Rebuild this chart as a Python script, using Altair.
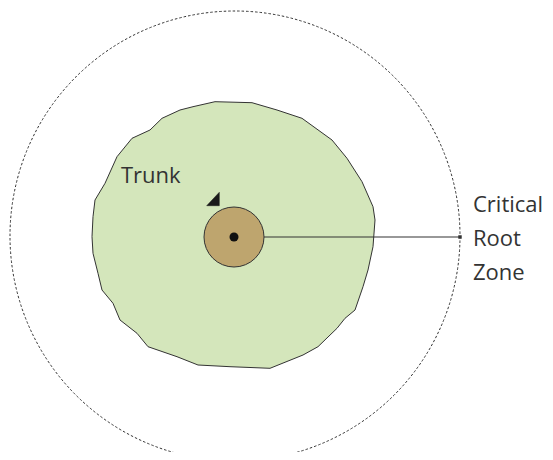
import altair as alt
import pandas as pd

# Canopy (drip line) polygon vertices, in image-pixel coordinates
canopy_x = [215, 252, 277, 302, 332, 347, 362, 373, 375, 373, 368, 363, 355, 345, 337, 318,
            303, 270, 230, 198, 177, 148, 137, 120, 113, 102, 98, 93, 92, 93, 95, 105, 117,
            132, 150, 162, 180, 193]
canopy_y = [101.7, 102.7, 110, 118.3, 140, 158.3, 181.7, 206.7, 220, 246.7, 270, 286.7, 310,
            318.3, 328.3, 346.7, 355, 368.3, 366.7, 365, 356.7, 346.7, 333.3, 320, 303.3, 290,
            273.3, 253.3, 236.7, 216.7, 200, 183.3, 156.7, 138.3, 130, 118.3, 110, 106.7]

# Small pointer triangle next to the trunk
tri_x = [206.7, 219.3, 219.3]
tri_y = [205.7, 205.7, 192.3]

# Circles: center x, center y, diameter, role
circ_x = [235, 234, 234]
circ_y = [236, 237, 237]
circ_d = [450, 60, 9]
circ_role = ["crz", "trunk", "dot"]

# Connector line
line_x = [264]
line_x2 = [460]
line_y = [237]

# Labels
label_text = ["Trunk", "Critical", "Root", "Zone"]
label_x = [121, 473, 473, 473]
label_y = [183, 212, 246, 280]

XD = [8, 545]
YD = [452, 8]
xs = alt.Scale(domain=XD, nice=False, zero=False)
ys = alt.Scale(domain=YD, nice=False, zero=False)

def poly_df(xs_, ys_):
    n = len(xs_)
    return pd.DataFrame({"x": list(xs_) + [xs_[0]], "y": list(ys_) + [ys_[0]],
                         "o": list(range(n + 1))})

canopy_df = poly_df(canopy_x, canopy_y)
tri_df = poly_df(tri_x, tri_y)
circ_df = pd.DataFrame({"x": circ_x, "y": circ_y, "size": [d * d for d in circ_d], "role": circ_role})
line_df = pd.DataFrame({"x": line_x, "x2": line_x2, "y": line_y})
lab_df = pd.DataFrame({"t": label_text, "x": label_x, "y": label_y})

X = lambda f="x": alt.X(f"{f}:Q", scale=xs, axis=None)
Y = lambda f="y": alt.Y(f"{f}:Q", scale=ys, axis=None)

crz = alt.Chart(circ_df[circ_df.role == "crz"]).mark_point(
    shape="circle", filled=False, stroke="#333333", strokeWidth=1, strokeDash=[2.5, 2], opacity=1
).encode(x=X(), y=Y(), size=alt.Size("size:Q", scale=None, legend=None))

canopy = alt.Chart(canopy_df).mark_line(
    fill="#d4e6bb", filled=True, stroke="#333333", strokeWidth=1
).encode(x=X(), y=Y(), order="o:Q")

conn = alt.Chart(line_df).mark_rule(color="#333333", strokeWidth=1.2).encode(
    x=X(), x2="x2:Q", y=Y()
)
conn_end = alt.Chart(line_df).mark_point(shape="square", filled=True, color="#333333", size=12, opacity=1).encode(
    x=X("x2"), y=Y()
)

trunk = alt.Chart(circ_df[circ_df.role == "trunk"]).mark_point(
    shape="circle", filled=True, fill="#bea56e", stroke="#333333", strokeWidth=1, opacity=1
).encode(x=X(), y=Y(), size=alt.Size("size:Q", scale=None, legend=None))

dot = alt.Chart(circ_df[circ_df.role == "dot"]).mark_point(
    shape="circle", filled=True, color="#111111", opacity=1
).encode(x=X(), y=Y(), size=alt.Size("size:Q", scale=None, legend=None))

tri = alt.Chart(tri_df).mark_line(
    fill="#1a1a1a", filled=True, stroke="#1a1a1a", strokeWidth=0.5
).encode(x=X(), y=Y(), order="o:Q")

labels = alt.Chart(lab_df).mark_text(
    align="left", baseline="alphabetic", font="Open Sans", fontSize=22, color="#333333"
).encode(x=X(), y=Y(), text="t:N")

chart = alt.layer(crz, canopy, conn, conn_end, trunk, dot, tri, labels).properties(
    width=537, height=444, padding=0, autosize="none"
).configure_view(stroke=None)

chart.save("out.html", embed_options={"renderer": "svg", "actions": False})
